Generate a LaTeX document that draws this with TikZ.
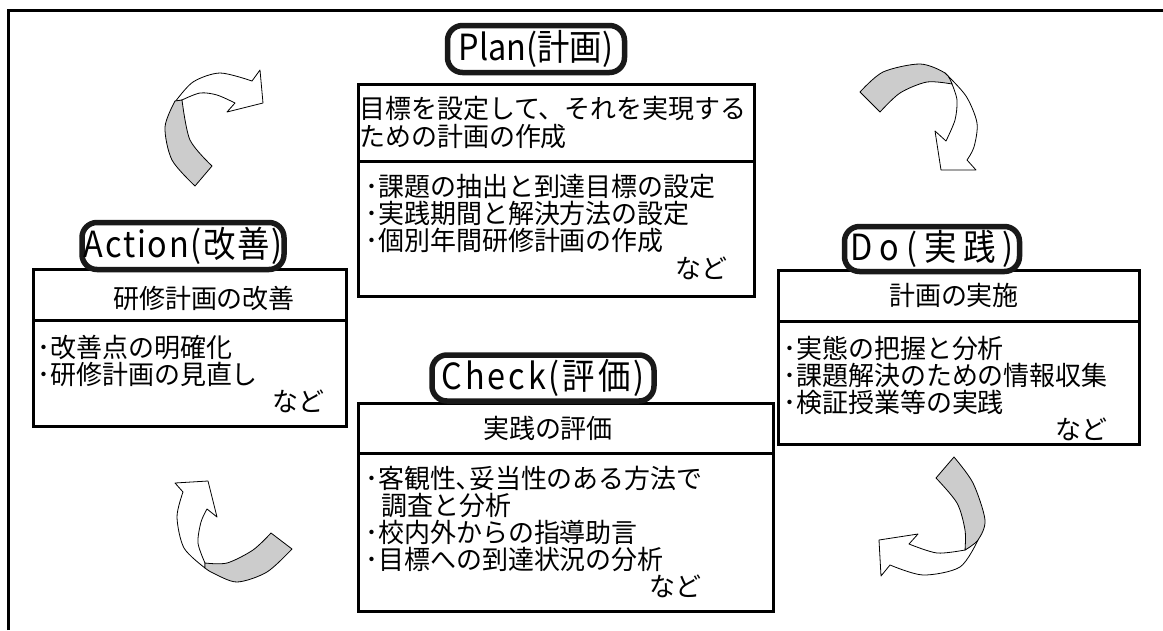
\documentclass[tikz,border=0pt]{standalone}
\usepackage{fontspec}
\setmainfont{Noto Sans CJK JP}
\newfontfamily\bodyf[FakeStretch=0.98]{Noto Sans CJK JP}
\newfontfamily\labf[FakeStretch=0.9]{Noto Sans CJK JP}
\begin{document}
\begin{tikzpicture}[x=1pt,y=-1pt,
  box/.style={draw=black,line width=2.5pt,fill=white,inner sep=0pt,anchor=north west},
  lab/.style={draw=black!90,line width=5.5pt,fill=white,rounded corners=15pt,inner sep=0pt,
    font=\labf\fontsize{36}{38}\selectfont},
  txt/.style={anchor=base west,inner sep=0pt,font=\bodyf\fontsize{26.5}{27}\selectfont},
  nado/.style={anchor=base east,inner sep=0pt,font=\bodyf\fontsize{26.5}{27}\selectfont},
  ttl/.style={anchor=base,inner sep=0pt,font=\bodyf\fontsize{26.5}{27}\selectfont},
  wa/.style={draw=black,line width=0.8pt,fill=white,line join=round},
  ga/.style={draw=black,line width=0.8pt,fill=black!20,line join=round}]
\useasboundingbox (0,0) rectangle (1163,630);
\fill[white] (0,0) rectangle (1163,630);
% outer frame
\coordinate (fbl) at (8.5,630);
\coordinate (ftl) at (8.5,10.5);
\coordinate (ftr) at (1163,10.5);
\draw[line width=3pt] (fbl) -- (ftl) -- (ftr);

% ---- Plan ----
\node[box,minimum width=396pt,minimum height=77pt] (planhead) at (357,83) {};
\node[box,minimum width=396pt,minimum height=135pt] (planbody) at (357,160) {};
\node[txt] (p1) at (359,118) {目標を設定して、それを実現する};
\node[txt] (p2) at (359,146) {ための計画の作成};
\node[txt] (p3) at (365,196) {･課題の抽出と到達目標の設定};
\node[txt] (p4) at (365,223) {･実践期間と解決方法の設定};
\node[txt] (p5) at (365,250) {･個別年間研修計画の作成};
\node[nado] (p6) at (728,278) {など};
\node[lab,minimum width=177pt,minimum height=47pt] (plan) at (536,49) {Plan(計画)};

% ---- Action ----
\node[box,minimum width=313pt,minimum height=51pt] (acthead) at (32,268) {};
\node[box,minimum width=313pt,minimum height=106pt] (actbody) at (32,319) {};
\node[ttl] (a0) at (204,308) {研修計画の改善};
\node[txt] (a1) at (37,357) {･改善点の明確化};
\node[txt] (a2) at (37,384) {･研修計画の見直し};
\node[nado] (a3) at (325,411) {など};
\node[lab,minimum width=202pt,minimum height=47pt] (action) at (183,246)
  {A\kern1.7pt c\kern1.7pt t\kern1.7pt i\kern1.7pt o\kern1.7pt n\kern1.7pt (\kern1.7pt 改\kern1.7pt 善\kern1.7pt )};

% ---- Do ----
\node[box,minimum width=361pt,minimum height=51pt] (dohead) at (777,269) {};
\node[box,minimum width=361pt,minimum height=123pt] (dobody) at (777,320) {};
\node[ttl] (d0) at (954,305) {計画の実施};
\node[txt] (d1) at (783,358) {･実態の把握と分析};
\node[txt] (d2) at (783,385) {･課題解決のための情報収集};
\node[txt] (d3) at (783,412) {･検証授業等の実践};
\node[nado] (d4) at (1108,439) {など};
\node[lab,minimum width=175pt,minimum height=45pt] (do) at (932,249)
  {D\kern7pt o\kern7pt (\kern7pt 実\kern7pt 践\kern7pt )};

% ---- Check ----
\node[box,minimum width=415pt,minimum height=50pt] (chkhead) at (357,402) {};
\node[box,minimum width=415pt,minimum height=158pt] (chkbody) at (357,452) {};
\node[ttl] (c0) at (548,438) {実践の評価};
\node[txt] (c1) at (365,488) {･客観性､妥当性のある方法で};
\node[txt] (c2) at (381,515) {調査と分析};
\node[txt] (c3) at (365,542) {･校内外からの指導助言};
\node[txt] (c4) at (365,569) {･目標への到達状況の分析};
\node[nado] (c5) at (702,596) {など};
\node[lab,minimum width=222pt,minimum height=46pt] (check) at (543,378)
  {C\kern2.9pt h\kern2.9pt e\kern2.9pt c\kern2.9pt k\kern2.9pt (\kern2.9pt 評\kern2.9pt 価\kern2.9pt )};

% ---- curved arrows ----
% top-left (Action -> Plan)
\draw[wa] plot[smooth] coordinates {(175,102)(193,82)(220,73)(252,81)} -- (260,70) -- (263,103) -- (227,112) -- (235,103)
  -- plot[smooth] coordinates {(235,103)(217,95)(200,93)(182,100)} -- cycle;
\draw[ga] plot[smooth] coordinates {(175,101)(165,127)(172,160)(195,186)} -- (212,166)
  -- plot[smooth] coordinates {(212,166)(190,140)(182,100)} -- cycle;
% top-right (Plan -> Do)
\draw[wa] plot[smooth] coordinates {(945,73)(966,96)(977,123)(974,147)(967,160)} -- (976,170) -- (941,170) -- (935,131) -- (946,141)
  -- plot[smooth] coordinates {(946,141)(955,120)(957,100)(952,84)} -- cycle;
\draw[ga] plot[smooth] coordinates {(860,92)(883,72)(920,64)(945,73)(952,84)}
  -- plot[smooth] coordinates {(952,84)(927,82)(900,93)(880,112)} -- cycle;
% bottom-right (Do -> Check)
\draw[wa] plot[smooth] coordinates {(978,540)(960,567)(923,575)(890,565)} -- (881,576) -- (879,540) -- (918,534) -- (909,544)
  -- plot[smooth] coordinates {(909,544)(937,553)(965,550)} -- cycle;
\draw[ga] (936,478) -- plot[smooth] coordinates {(954,457)(973,483)(985,520)(978,540)(965,550)}
  -- plot[smooth] coordinates {(965,550)(965,530)(957,503)(936,478)} -- cycle;
% bottom-left (Check -> Action)
\draw[wa] plot[smooth] coordinates {(205,568)(184,548)(177,517)(183,492)} -- (175,483) -- (208,481) -- (217,517) -- (207,509)
  -- plot[smooth] coordinates {(207,509)(201,522)(198,543)(205,563)} -- cycle;
\draw[ga] plot[smooth] coordinates {(205,563)(227,563)(253,550)(271,533)} -- (292,549)
  -- plot[smooth] coordinates {(292,549)(267,572)(237,582)(213,573)(205,568)} -- cycle;
\end{tikzpicture}
\end{document}
